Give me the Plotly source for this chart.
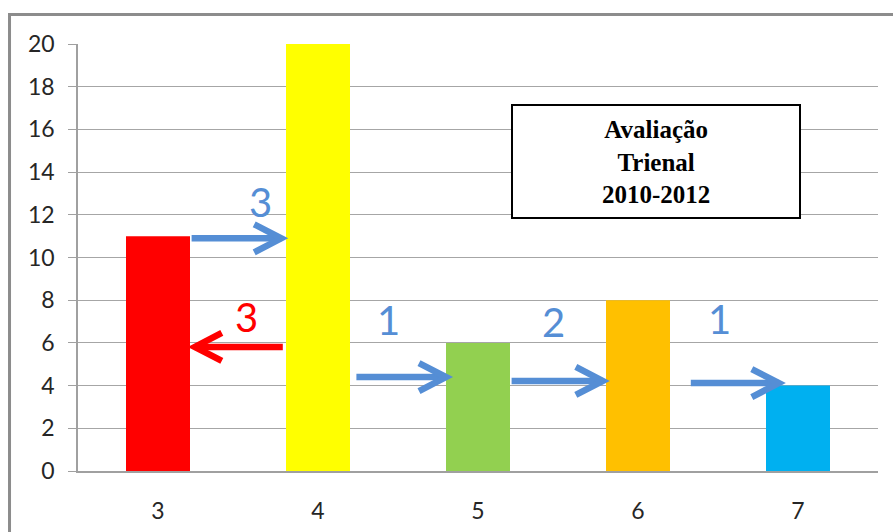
import plotly.graph_objects as go

# Bar data
categories = [3, 4, 5, 6, 7]
counts = [11, 20, 6, 8, 4]
bar_colors = ["#FF0000", "#FFFF00", "#92D050", "#FFC000", "#00B0F0"]
y_ticks = list(range(0, 21, 2))

# Movement arrows: (start x, end x, y, label, label x, label y, colour)
BLUE = "#558ED5"
RED = "#FF0000"
arrows = [
    (3.21, 3.77, 10.9, "3", 3.64, 12.6, BLUE),
    (3.78, 3.23, 5.81, "3", 3.55, 7.2, RED),
    (4.24, 4.80, 4.40, "1", 4.44, 7.07, BLUE),
    (5.21, 5.78, 4.22, "2", 5.47, 6.98, BLUE),
    (6.33, 6.88, 4.12, "1", 6.51, 7.12, BLUE),
]

box_text = "<b>Avaliação<br>Trienal<br>2010-2012</b>"

fig = go.Figure(
    go.Bar(
        x=categories,
        y=counts,
        marker=dict(color=bar_colors, line=dict(width=0)),
        width=0.4,
        hoverinfo="skip",
    )
)

shapes = []
annotations = []

# outer chart frame
shapes.append(dict(
    type="rect", xref="paper", yref="paper",
    x0=-0.0856, x1=1.06, y0=-0.2, y1=1.069,
    line=dict(color="#8C8C8C", width=3), fillcolor="rgba(0,0,0,0)",
    layer="below",
))

for x0, x1, y, label, lx, ly, col in arrows:
    # shaft
    shapes.append(dict(
        type="line", xref="x", yref="y", x0=x0, x1=x1, y0=y, y1=y,
        line=dict(color=col, width=6.5),
    ))
    # chevron head anchored at the tip
    d = -1 if x1 > x0 else 1
    shapes.append(dict(
        type="path", xref="x", yref="y",
        xsizemode="pixel", ysizemode="pixel",
        xanchor=x1, yanchor=y,
        path=f"M {27*d},14 L 0,0 L {27*d},-14",
        line=dict(color=col, width=6.5), fillcolor="rgba(0,0,0,0)",
    ))
    annotations.append(dict(
        x=lx, y=ly, xref="x", yref="y", text=label, showarrow=False,
        font=dict(family="Lato, Open Sans, sans-serif", size=40, color=col),
        xanchor="center", yanchor="middle",
    ))

# title box
shapes.append(dict(
    type="rect", xref="x", yref="y",
    x0=5.2125, x1=7.0125, y0=11.85, y1=17.14,
    line=dict(color="#000000", width=2), fillcolor="#FFFFFF",
))
annotations.append(dict(
    x=6.1125, y=14.45, xref="x", yref="y", text=box_text, showarrow=False,
    font=dict(family="Liberation Serif, Times New Roman, serif", size=25, color="#000000"),
    align="center", xanchor="center", yanchor="middle",
))

fig.update_layout(
    width=893, height=532,
    margin=dict(l=78, r=15, t=44, b=61),
    paper_bgcolor="#FFFFFF", plot_bgcolor="#FFFFFF",
    showlegend=False,
    shapes=shapes,
    annotations=annotations,
    font=dict(family="Lato, Open Sans, sans-serif", size=23, color="#262626"),
)
fig.update_xaxes(
    range=[2.5, 7.5], tickvals=categories, ticktext=[str(c) for c in categories],
    showgrid=False, showline=True, linecolor="#A0A0A0", linewidth=1.5,
    ticks="", ticklabelstandoff=19, zeroline=False, automargin=False,
)
fig.update_yaxes(
    range=[0, 20], tickvals=y_ticks,
    showgrid=True, gridcolor="#A6A6A6", gridwidth=1.3,
    showline=True, linecolor="#A0A0A0", linewidth=1.5,
    ticks="outside", ticklen=8, tickcolor="#A0A0A0", tickwidth=1.3,
    ticklabelstandoff=9, zeroline=False, automargin=False,
)

fig.write_html("out.html")
